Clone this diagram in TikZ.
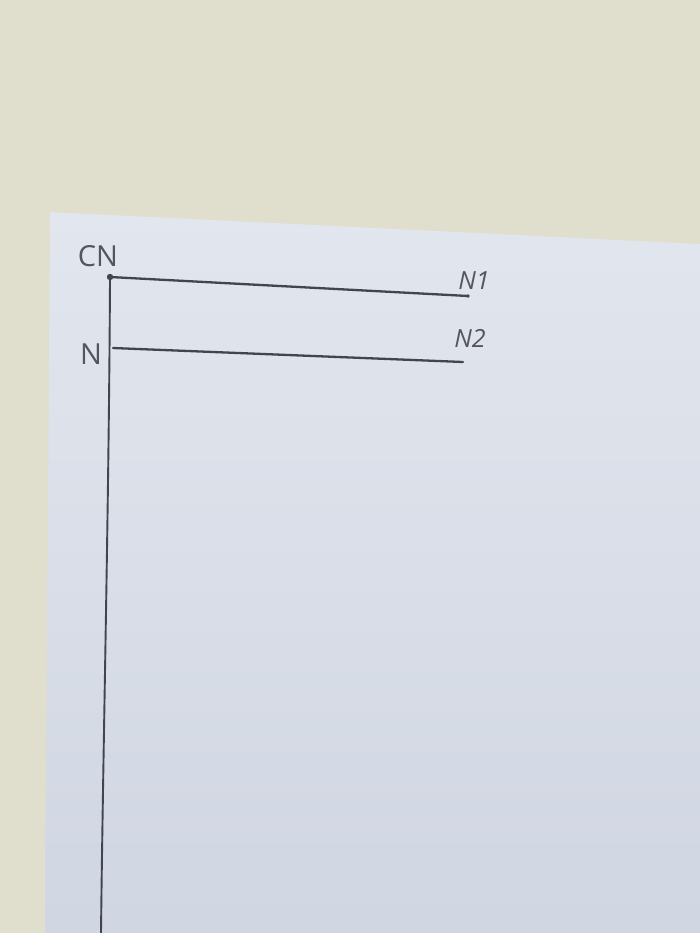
\documentclass[tikz,border=0pt]{standalone}
\usepackage{fontspec}
\setmainfont{Open Sans}
\definecolor{fabric}{RGB}{224,222,204}
\definecolor{paper}{RGB}{226,230,238}
\definecolor{paperdark}{RGB}{208,214,226}
\definecolor{ink}{RGB}{68,68,78}
\definecolor{pencil}{RGB}{85,85,95}
\begin{document}
\begin{tikzpicture}[x=1pt,y=-1pt,
  wire/.style={draw=ink,line width=2.3pt,line cap=round},
  lbl/.style={text=pencil,font=\fontsize{29}{31}\selectfont,inner sep=0pt},
  lblsmall/.style={text=pencil,font=\fontsize{25}{27}\selectfont\itshape,inner sep=0pt}]
\useasboundingbox (0,0) rectangle (700,933);
\fill[fabric] (0,0) rectangle (700,933);
\shade[top color=paper,bottom color=paperdark] (50,212) -- (700,244) -- (700,933) -- (45,933) -- cycle;
% points
\coordinate (cn) at (110,277);
\coordinate (n1) at (468,296);
\coordinate (n) at (113,348);
\coordinate (n2) at (463,362);
\coordinate (bot) at (101,933);
% wires
\draw[wire] (cn) -- (n1);
\draw[wire] (n) -- (n2);
\draw[wire,line width=1.9pt] (cn) .. controls (109,500) and (103,750) .. (bot);
\fill[ink] (cn) circle (3.2pt);
\fill[ink] (n1) circle (1.8pt);
% labels
\node[lbl] (lcn) at (98,256) {CN};
\node[lblsmall] (ln1) at (474,281) {N1};
\node[lbl] (ln) at (91,354) {N};
\node[lblsmall] (ln2) at (470,338) {N2};
\end{tikzpicture}
\end{document}
